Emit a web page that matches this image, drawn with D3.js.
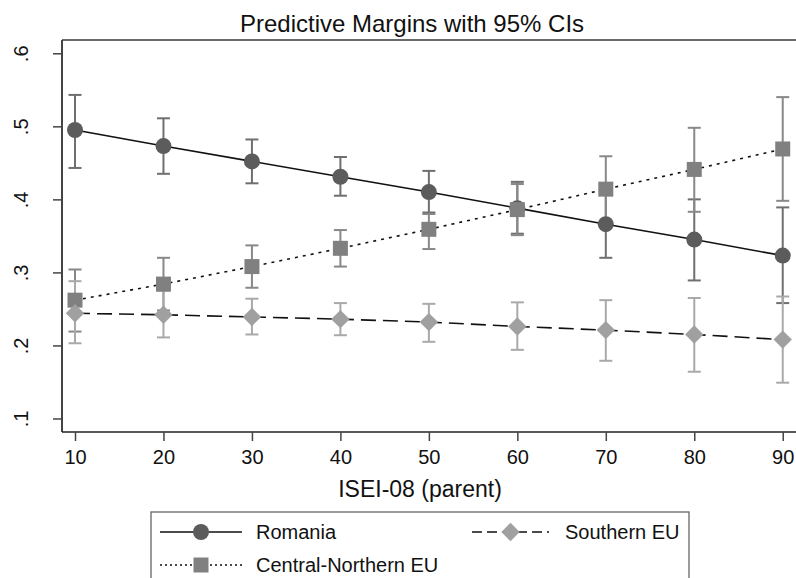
<!DOCTYPE html>
<html>
<head>
<meta charset="utf-8">
<script src="https://cdn.jsdelivr.net/npm/d3@7/dist/d3.min.js"></script>
<style>
  html, body { margin: 0; padding: 0; background: #fff; }
  svg { display: block; font-family: "Liberation Sans", Arial, sans-serif; }
</style>
</head>
<body>
<svg id="chart" width="796" height="578"></svg>
<script>
// ---- Data ----
const isei = [10, 20, 30, 40, 50, 60, 70, 80, 90];

const romania      = [0.495, 0.473, 0.452, 0.431, 0.410, 0.388, 0.366, 0.345, 0.323];
const romaniaLo    = [0.443, 0.435, 0.422, 0.405, 0.382, 0.353, 0.320, 0.289, 0.258];
const romaniaHi    = [0.543, 0.511, 0.482, 0.458, 0.439, 0.424, 0.412, 0.400, 0.389];

const central      = [0.262, 0.284, 0.308, 0.333, 0.359, 0.386, 0.414, 0.441, 0.469];
const centralLo    = [0.219, 0.248, 0.279, 0.308, 0.332, 0.351, 0.369, 0.383, 0.398];
const centralHi    = [0.304, 0.320, 0.337, 0.358, 0.380, 0.421, 0.459, 0.498, 0.540];

const southern     = [0.244, 0.242, 0.239, 0.236, 0.232, 0.226, 0.221, 0.215, 0.208];
const southernLo   = [0.203, 0.211, 0.215, 0.214, 0.205, 0.194, 0.179, 0.164, 0.149];
const southernHi   = [0.288, 0.275, 0.264, 0.258, 0.257, 0.259, 0.262, 0.265, 0.267];

const seriesNames  = ["Romania", "Central-Northern EU", "Southern EU"];
const xTicks       = [10, 20, 30, 40, 50, 60, 70, 80, 90];
const yTicks       = [0.1, 0.2, 0.3, 0.4, 0.5, 0.6];
const yTickLabels  = [".1", ".2", ".3", ".4", ".5", ".6"];
const titleText    = "Predictive Margins with 95% CIs";
const xTitleText   = "ISEI-08 (parent)";

// ---- Series styling table built from the arrays ----
const series = [
  { name: seriesNames[0], v: romania,  lo: romaniaLo,  hi: romaniaHi,
    marker: "circle",  fill: "#5c5c5c", ci: "#6f6f6f", dash: null },
  { name: seriesNames[1], v: central,  lo: centralLo,  hi: centralHi,
    marker: "square",  fill: "#808080", ci: "#888888", dash: "3,5" },
  { name: seriesNames[2], v: southern, lo: southernLo, hi: southernHi,
    marker: "diamond", fill: "#a0a0a0", ci: "#a9a9a9", dash: "15,7" }
];

const svg = d3.select("#chart");

// plot region
const L = 62, R = 796, T = 40, B = 432;
const x = d3.scaleLinear().domain([8.53, 91.5]).range([L, R]);
const y = d3.scaleLinear().domain([0.0815, 0.6182]).range([B, T]);

const font = "'Liberation Sans', Arial, sans-serif";

// title
svg.append("text")
  .attr("x", 412).attr("y", 32)
  .attr("text-anchor", "middle")
  .attr("font-size", 24).attr("fill", "#111")
  .text(titleText);

// top frame line
svg.append("line")
  .attr("x1", L).attr("x2", R).attr("y1", T).attr("y2", T)
  .attr("stroke", "#6a6a6a").attr("stroke-width", 2);

// y axis
const yAxis = d3.axisLeft(y).tickValues(yTicks).tickSize(9)
  .tickFormat((d, i) => yTickLabels[i]);
const gy = svg.append("g").attr("transform", `translate(${L},0)`).call(yAxis);
gy.select(".domain").attr("stroke", "#444").attr("stroke-width", 2).attr("d", `M0,${T}V${B}`);
gy.selectAll(".tick line").attr("stroke", "#444").attr("stroke-width", 1.5);
gy.selectAll(".tick text")
  .attr("font-size", 20).attr("font-family", font).attr("fill", "#111")
  .attr("x", null).attr("dy", null)
  .attr("text-anchor", "middle")
  .attr("transform", "translate(-34,0) rotate(-90)");

// x axis
const xAxis = d3.axisBottom(x).tickValues(xTicks).tickSize(9).tickFormat(d3.format("d"));
const gx = svg.append("g").attr("transform", `translate(0,${B})`).call(xAxis);
gx.select(".domain").attr("stroke", "#222").attr("stroke-width", 1.5).attr("d", `M${L},0H${R}`);
gx.selectAll(".tick line").attr("stroke", "#444").attr("stroke-width", 1.5);
gx.selectAll(".tick text")
  .attr("font-size", 20).attr("font-family", font).attr("fill", "#111")
  .attr("y", 32).attr("dy", null);

// x title
svg.append("text")
  .attr("x", 420).attr("y", 497)
  .attr("text-anchor", "middle")
  .attr("font-size", 23).attr("fill", "#111")
  .text(xTitleText);

// marker symbols
const symFor = {
  circle:  d3.symbol().type(d3.symbolCircle).size(Math.PI * 8 * 8),
  square:  d3.symbol().type(d3.symbolSquare).size(15 * 15),
  diamond: d3.symbol().type(d3.symbolSquare).size(13 * 13)
};
function markerPath(m) { return symFor[m](); }
function markerTransform(m, px, py) {
  return m === "diamond" ? `translate(${px},${py}) rotate(45)` : `translate(${px},${py})`;
}

const plot = svg.append("g");

// CIs first
series.forEach(s => {
  const g = plot.append("g");
  isei.forEach((xv, i) => {
    const px = x(xv), y1 = y(s.lo[i]), y2 = y(s.hi[i]);
    g.append("line").attr("x1", px).attr("x2", px).attr("y1", y1).attr("y2", y2)
      .attr("stroke", s.ci).attr("stroke-width", 2);
    [y1, y2].forEach(cy => g.append("line")
      .attr("x1", px - 6.5).attr("x2", px + 6.5).attr("y1", cy).attr("y2", cy)
      .attr("stroke", s.ci).attr("stroke-width", 2));
  });
});

// lines and markers
const lineGen = d3.line().x((d, i) => x(isei[i])).y(d => y(d));
series.forEach(s => {
  plot.append("path").attr("d", lineGen(s.v))
    .attr("fill", "none").attr("stroke", "#111").attr("stroke-width", 1.6)
    .attr("stroke-dasharray", s.dash);
});
series.forEach(s => {
  plot.selectAll(null).data(s.v).enter().append("path")
    .attr("d", markerPath(s.marker))
    .attr("transform", (d, i) => markerTransform(s.marker, x(isei[i]), y(d)))
    .attr("fill", s.fill);
});

// legend
const lg = svg.append("g");
lg.append("rect").attr("x", 151).attr("y", 512).attr("width", 538).attr("height", 80)
  .attr("fill", "#fff").attr("stroke", "#666").attr("stroke-width", 1.3);

const legendItems = [
  { s: series[0], lx: 160, rx: 242, cy: 532, tx: 256, dash: null },
  { s: series[2], lx: 472, rx: 549, cy: 532, tx: 565, dash: "10,5" },
  { s: series[1], lx: 160, rx: 242, cy: 565, tx: 256, dash: "2,3" }
];
legendItems.forEach(it => {
  lg.append("line").attr("x1", it.lx).attr("x2", it.rx).attr("y1", it.cy).attr("y2", it.cy)
    .attr("stroke", "#111").attr("stroke-width", 1.3).attr("stroke-dasharray", it.dash);
  lg.append("path").attr("d", markerPath(it.s.marker))
    .attr("transform", markerTransform(it.s.marker, (it.lx + it.rx) / 2, it.cy))
    .attr("fill", it.s.fill);
  lg.append("text").attr("x", it.tx).attr("y", it.cy + 7)
    .attr("font-size", 20).attr("fill", "#111").text(it.s.name);
});
</script>
</body>
</html>
